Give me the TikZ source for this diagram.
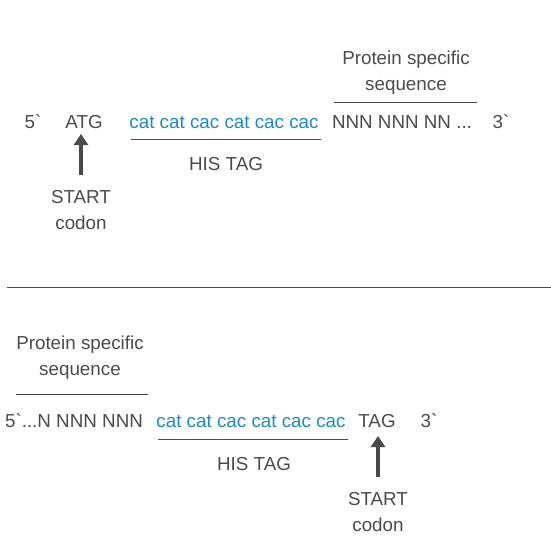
\documentclass[tikz,border=0pt]{standalone}
\usepackage{fontspec}
\setmainfont{Liberation Sans}
\usetikzlibrary{arrows.meta}

\definecolor{seqgray}{HTML}{4A4A4A}
\definecolor{tagblue}{HTML}{1A8AC8}

\newcommand{\strandend}{\textasciigrave}

\tikzset{
  seq/.style={anchor=base, inner sep=0, text=seqgray},
  histag/.style={seq, text=tagblue},
  caption/.style={align=center, inner sep=0, text=seqgray},
  bar/.style={draw=seqgray, line width=0.8pt},
  codonarrow/.style={draw=seqgray, line width=4pt, -{Triangle[width=14pt, length=11pt]}},
}

\begin{document}
\begin{tikzpicture}[x=1pt, y=-1pt, font=\fontsize{18.8}{26}\selectfont]

\useasboundingbox (0,0) rectangle (551,547);

% upper construct
\node[seq] (fivetop) at (33,128) {5\strandend};
\node[seq] (atg) at (84,128) {ATG};
\node[histag] (histop) at (224,128) {cat cat cac cat cac cac};
\node[seq] (protop) at (402,128) {NNN NNN NN ...};
\node[seq] (threetop) at (501,128) {3\strandend};

\coordinate (hisL) at (131,139);
\coordinate (hisR) at (321,139);
\draw[bar] (hisL) -- (hisR);
\node[seq] (histagtop) at (226,170) {HIS TAG};

\coordinate (proL) at (334,102);
\coordinate (proR) at (477,102);
\draw[bar] (proL) -- (proR);
\node[caption, anchor=south] (protoplbl) at (406,95) {Protein specific\\sequence};

\node[caption, anchor=north] (starttop) at (81,190) {START\\codon};
\coordinate (tiptop) at (81,134);
\coordinate (foottop) at (81,175);
\draw[codonarrow] (foottop) -- (tiptop);

% separator
\draw[draw=seqgray, line width=0.8pt] (7,287) -- (551,287);

% lower construct
\node[seq] (probot) at (74,427) {5\strandend...N NNN NNN};
\node[histag] (hisbot) at (251,427) {cat cat cac cat cac cac};
\node[seq] (tag) at (377,427) {TAG};
\node[seq] (threebot) at (429,427) {3\strandend};

\coordinate (hisbL) at (158,439);
\coordinate (hisbR) at (348,439);
\draw[bar] (hisbL) -- (hisbR);
\node[seq] (histagbot) at (254,470) {HIS TAG};

\coordinate (probL) at (16,394);
\coordinate (probR) at (148,394);
\draw[bar] (probL) -- (probR);
\node[caption, anchor=south] (probotlbl) at (80,380) {Protein specific\\sequence};

\node[caption, anchor=north] (startbot) at (378,492) {START\\codon};
\coordinate (tipbot) at (378,436);
\coordinate (footbot) at (378,477);
\draw[codonarrow] (footbot) -- (tipbot);

\end{tikzpicture}
\end{document}
